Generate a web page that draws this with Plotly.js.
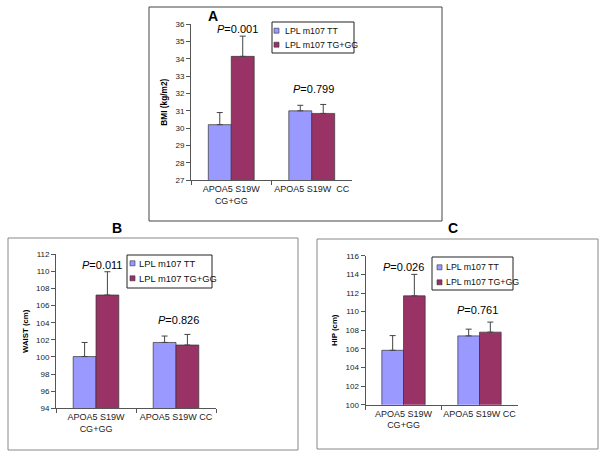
<!DOCTYPE html>
<html>
<head>
<meta charset="utf-8">
<script src="https://cdn.plot.ly/plotly-3.0.1.min.js"></script>
<style>html,body{margin:0;padding:0;background:#fff;}#chart{width:604px;height:459px;}</style>
</head>
<body>
<div id="chart"></div>
<script>
// ---- data ----
var categoriesA = ["APOA5 S19W<br>CG+GG", "APOA5 S19W  CC"];
var categoriesBC = ["APOA5 S19W<br>CG+GG", "APOA5 S19W CC"];
var seriesNames = ["LPL m107 TT", "LPL m107 TG+GG"];

var bmiTT = [30.2, 31.0];
var bmiTTErr = [0.7, 0.32];
var bmiTG = [34.15, 30.85];
var bmiTGErr = [1.17, 0.52];

var waistTT = [100.05, 101.7];
var waistTTErr = [1.65, 0.75];
var waistTG = [107.25, 101.4];
var waistTGErr = [2.72, 1.24];

var hipTT = [105.85, 107.4];
var hipTTErr = [1.58, 0.72];
var hipTG = [111.7, 107.8];
var hipTGErr = [2.3, 1.08];

var ticksA = [27, 28, 29, 30, 31, 32, 33, 34, 35, 36];
var ticksB = [94, 96, 98, 100, 102, 104, 106, 108, 110, 112];
var ticksC = [100, 102, 104, 106, 108, 110, 112, 114, 116];

var pValuesA = ["0.001", "0.799"];
var pValuesB = ["0.011", "0.826"];
var pValuesC = ["0.026", "0.761"];

var yTitles = ["BMI (kg/m2)", "WAIST (cm)", "HIP (cm)"];
var panelLetters = ["A", "B", "C"];

// ---- styling helpers ----
var W = 604, H = 459;
function px(x) { return x / W; }
function py(y) { return 1 - y / H; }
var colTT = "#9999FF", colTG = "#993366";
var font = "Liberation Sans, Arial, sans-serif";

function barTrace(cats, vals, errs, color, name, xa, ya) {
  return {
    type: "bar", x: cats, y: vals, name: name, xaxis: xa, yaxis: ya,
    showlegend: false,
    marker: { color: color, line: { color: "#333333", width: 0.7 } },
    error_y: { type: "data", symmetric: false, array: errs,
               arrayminus: errs.map(function(){return 0;}),
               color: "#444444", thickness: 1, width: 3 },
    hoverinfo: "x+y"
  };
}

var data = [
  barTrace(categoriesA, bmiTT, bmiTTErr, colTT, seriesNames[0], "x", "y"),
  barTrace(categoriesA, bmiTG, bmiTGErr, colTG, seriesNames[1], "x", "y"),
  barTrace(categoriesBC, waistTT, waistTTErr, colTT, seriesNames[0], "x2", "y2"),
  barTrace(categoriesBC, waistTG, waistTGErr, colTG, seriesNames[1], "x2", "y2"),
  barTrace(categoriesBC, hipTT, hipTTErr, colTT, seriesNames[0], "x3", "y3"),
  barTrace(categoriesBC, hipTG, hipTGErr, colTG, seriesNames[1], "x3", "y3")
];

function xAxis(domain, anchor) {
  return {
    domain: domain, anchor: anchor, type: "category",
    showline: true, linecolor: "#555555", linewidth: 1,
    ticks: "outside", tickson: "boundaries", ticklen: 4, tickcolor: "#555555",
    tickangle: 0,
    tickfont: { family: font, size: 9, color: "#222222" },
    showgrid: false, zeroline: false, fixedrange: true
  };
}
function yAxis(domain, anchor, tickvals, title, tsize) {
  var lo = tickvals[0], hi = tickvals[tickvals.length - 1];
  return {
    domain: domain, anchor: anchor, range: [lo, hi + (hi - lo) * 0.0005],
    tickmode: "array", tickvals: tickvals,
    showline: true, linecolor: "#555555", linewidth: 1,
    ticks: "outside", ticklen: 4, tickcolor: "#555555",
    tickfont: { family: font, size: 8, color: "#222222" },
    showgrid: false, zeroline: false, fixedrange: true,
    title: { text: "<b>" + title + "</b>", font: { family: font, size: tsize, color: "#000" }, standoff: 6 }
  };
}

var shapes = [];
var annotations = [];

function frame(x0, x1, y0, y1, color) {
  shapes.push({ type: "rect", xref: "paper", yref: "paper",
    x0: px(x0), x1: px(x1), y0: py(y1), y1: py(y0),
    line: { color: color, width: 1 }, fillcolor: "rgba(0,0,0,0)" });
}
function legendBox(x0, x1, y0, y1, sqx, textx, rows, fsize) {
  shapes.push({ type: "rect", xref: "paper", yref: "paper",
    x0: px(x0), x1: px(x1), y0: py(y1), y1: py(y0),
    line: { color: "#222222", width: 1 }, fillcolor: "#ffffff" });
  var cols = [colTT, colTG];
  for (var i = 0; i < 2; i++) {
    shapes.push({ type: "rect", xref: "paper", yref: "paper",
      x0: px(sqx), x1: px(sqx + 5), y0: py(rows[i] + 2.5), y1: py(rows[i] - 2.5),
      line: { color: "#333333", width: 0.6 }, fillcolor: cols[i] });
    annotations.push({ xref: "paper", yref: "paper", x: px(textx), y: py(rows[i]),
      xanchor: "left", yanchor: "middle", showarrow: false, text: seriesNames[i],
      font: { family: font, size: fsize, color: "#111111" } });
  }
}
function pLabel(x, y, p) {
  annotations.push({ xref: "paper", yref: "paper", x: px(x), y: py(y),
    xanchor: "center", yanchor: "middle", showarrow: false,
    text: "<i>P</i>=" + p, font: { family: font, size: 11, color: "#000" } });
}
function letter(x, y, t) {
  annotations.push({ xref: "paper", yref: "paper", x: px(x), y: py(y),
    xanchor: "center", yanchor: "middle", showarrow: false,
    text: "<b>" + t + "</b>", font: { family: font, size: 14, color: "#000" } });
}

frame(149, 442, 7, 221, "#444444");
frame(8, 298, 238, 450, "#888888");
frame(317, 598, 239, 449, "#888888");

legendBox(272, 354, 22, 53, 274, 283, [30.7, 44.7], 8.8);
legendBox(127, 212, 255, 288, 130, 136.5, [263.3, 278.3], 9.4);
legendBox(432, 513, 257, 290, 437, 444, [267.3, 282.3], 8.8);

pLabel(237, 29, pValuesA[0]);
pLabel(313, 89.3, pValuesA[1]);
pLabel(102, 265, pValuesB[0]);
pLabel(178, 320, pValuesB[1]);
pLabel(403, 267.3, pValuesC[0]);
pLabel(477, 310.3, pValuesC[1]);

letter(213, 16, panelLetters[0]);
letter(117, 228, panelLetters[1]);
letter(453, 228, panelLetters[2]);

var layout = {
  width: W, height: H, autosize: false,
  margin: { l: 0, r: 0, t: 0, b: 0, pad: 0 },
  paper_bgcolor: "#ffffff", plot_bgcolor: "rgba(0,0,0,0)",
  barmode: "group", bargap: 0.43, bargroupgap: 0,
  showlegend: false,
  font: { family: font },
  xaxis: xAxis([px(191), px(352)], "y"),
  yaxis: yAxis([py(180), py(24.3)], "x", ticksA, yTitles[0], 8.3),
  xaxis2: xAxis([px(56), px(216)], "y2"),
  yaxis2: yAxis([py(408.3), py(254.3)], "x2", ticksB, yTitles[1], 7.8),
  xaxis3: xAxis([px(365.5), px(517.5)], "y3"),
  yaxis3: yAxis([py(404.8), py(255.7)], "x3", ticksC, yTitles[2], 7.8),
  shapes: shapes,
  annotations: annotations
};

Plotly.newPlot("chart", data, layout, { displayModeBar: false, staticPlot: true });
</script>
</body>
</html>
